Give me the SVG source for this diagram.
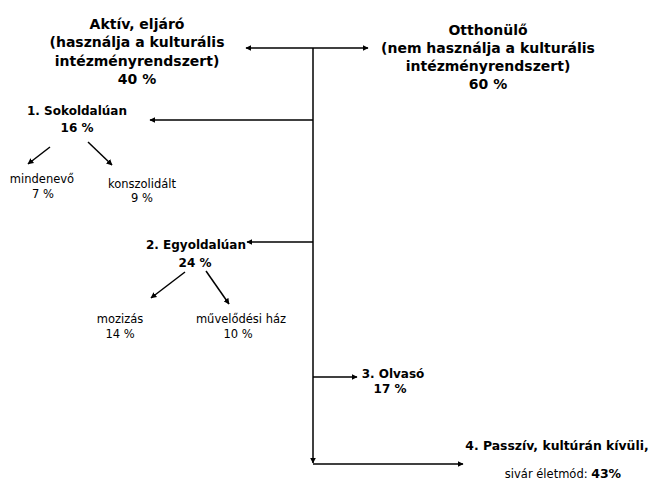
<svg xmlns="http://www.w3.org/2000/svg" width="654" height="482" viewBox="0 0 654 482">
<style>
text{font-family:"DejaVu Sans","Verdana",sans-serif;fill:#000;text-anchor:middle}
.h{font-size:14px;font-weight:bold}
.b{font-size:12px;font-weight:bold}
.r{font-size:11.5px}
.c{stroke:#000;stroke-width:1.5;fill:none}
</style>
<defs>
<marker id="ah" viewBox="0 0 10 10" refX="9" refY="5" markerWidth="6" markerHeight="6" markerUnits="userSpaceOnUse" orient="auto">
<path d="M0,0L10,5L0,10z" fill="#000"/>
</marker>
</defs>
<g id="connectors">
<line class="c" x1="313" y1="48" x2="313" y2="463" marker-end="url(#ah)"/>
<line class="c" x1="313" y1="48" x2="246" y2="48" marker-end="url(#ah)"/>
<line class="c" x1="313" y1="48" x2="368" y2="48" marker-end="url(#ah)"/>
<line class="c" x1="313" y1="120" x2="150" y2="120" marker-end="url(#ah)"/>
<line class="c" x1="313" y1="242" x2="247" y2="242" marker-end="url(#ah)"/>
<line class="c" x1="313" y1="377" x2="357" y2="377" marker-end="url(#ah)"/>
<line class="c" x1="313" y1="464" x2="463" y2="464" marker-end="url(#ah)"/>
<line class="c" x1="50" y1="147" x2="28" y2="164" marker-end="url(#ah)"/>
<line class="c" x1="88" y1="142" x2="112" y2="165" marker-end="url(#ah)"/>
<line class="c" x1="185" y1="272" x2="151" y2="298" marker-end="url(#ah)"/>
<line class="c" x1="206" y1="271" x2="229" y2="304" marker-end="url(#ah)"/>
</g>
<g id="aktiv">
<text class="h" x="137" y="29">Aktív, eljáró</text>
<text class="h" x="137" y="47">(használja a kulturális</text>
<text class="h" x="137" y="66">intézményrendszert)</text>
<text class="h" x="137" y="84">40 %</text>
</g>
<g id="otthonulo">
<text class="h" x="488" y="35">Otthonülő</text>
<text class="h" x="488" y="53">(nem használja a kulturális</text>
<text class="h" x="488" y="71">intézményrendszert)</text>
<text class="h" x="488" y="89">60 %</text>
</g>
<g id="sokoldaluan">
<text class="b" x="77" y="115">1. Sokoldalúan</text>
<text class="b" x="77" y="132">16 %</text>
</g>
<g id="mindenevo">
<text class="r" x="42" y="183">mindenevő</text>
<text class="r" x="43" y="198">7 %</text>
</g>
<g id="konszolidalt">
<text class="r" x="142" y="188">konszolidált</text>
<text class="r" x="142" y="202">9 %</text>
</g>
<g id="egyoldaluan">
<text class="b" x="196" y="249">2. Egyoldalúan</text>
<text class="b" x="195" y="267">24 %</text>
</g>
<g id="mozizas">
<text class="r" x="120" y="323">mozizás</text>
<text class="r" x="120" y="338">14 %</text>
</g>
<g id="muvelodesi">
<text class="r" x="241" y="323">művelődési ház</text>
<text class="r" x="238" y="338">10 %</text>
</g>
<g id="olvaso">
<text class="b" x="393" y="378">3. Olvasó</text>
<text class="b" x="390" y="393">17 %</text>
</g>
<g id="passziv">
<text class="b" x="557" y="450" style="font-size:12.4px">4. Passzív, kultúrán kívüli,</text>
<text class="r" x="563" y="478">sivár életmód: <tspan style="font-weight:bold;font-size:12.5px">43%</tspan></text>
</g>
</svg>
